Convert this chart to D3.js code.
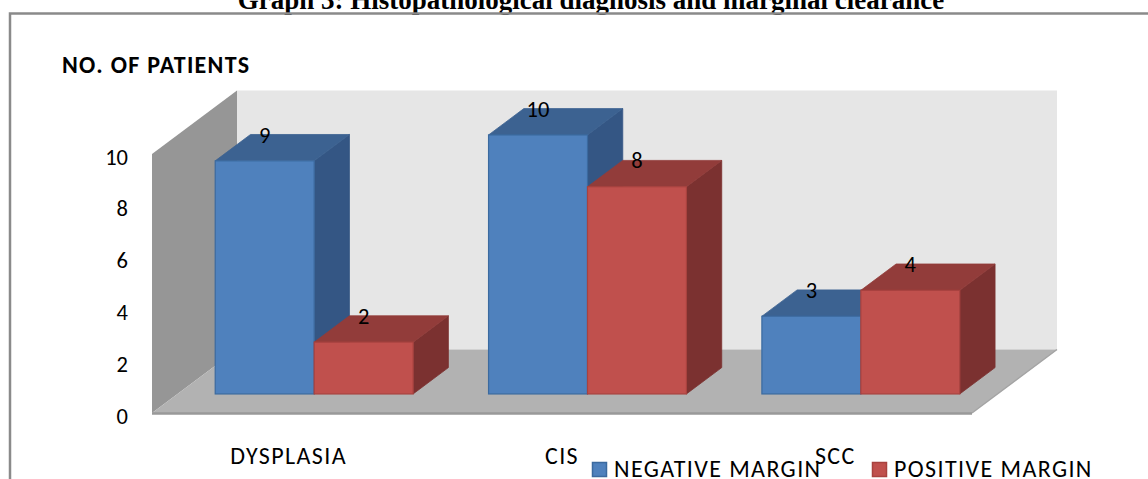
<!DOCTYPE html>
<html>
<head>
<meta charset="utf-8">
<script src="https://cdn.jsdelivr.net/npm/d3@7"></script>
<style>
  html, body { margin: 0; padding: 0; background: #fff; }
  svg { display: block; }
  .lbl { font-family: Carlito, Lato, "Open Sans", sans-serif; fill: #000; }
</style>
</head>
<body>
<svg id="chart" width="1148" height="479"></svg>
<script>
// ---- data ----
const categories = ["DYSPLASIA", "CIS", "SCC"];
const seriesNames = ["NEGATIVE MARGIN", "POSITIVE MARGIN"];
const negativeMargin = [9, 10, 3];
const positiveMargin = [2, 8, 4];
const yTicks = [0, 2, 4, 6, 8, 10];
const titleText = "Graph 3: Histopathological diagnosis and marginal clearance";
const yAxisTitle = "NO. OF PATIENTS";

// ---- styling / layout ----
const colors = {
  "NEGATIVE MARGIN": { front: "#4F81BD", top: "#3C6291", side: "#345684", stroke: "#3B6A9F" },
  "POSITIVE MARGIN": { front: "#C0504D", top: "#923C3A", side: "#7B3130", stroke: "#A8423F" }
};
const plot = { left: 152, right: 972, base: 413, top: 154 };
const wallDepth = { dx: 85, dy: -63.5 };
const barFrontFrac = 0.3, barBackFrac = 0.715;
const groupFrac = 0.724;
const numSize = 22.5;
const wordSize = 24;
const wordSpacing = "1.4px";

const svg = d3.select("#chart");

// title (clipped at top)
svg.append("text")
  .attr("x", 591).attr("y", 9)
  .attr("text-anchor", "middle")
  .style("font-family", "'Liberation Serif', 'Times New Roman', serif")
  .style("font-weight", "bold")
  .style("font-size", "27px")
  .text(titleText);

// frame
svg.append("path")
  .attr("d", "M10,479 V13.5 H1148")
  .attr("fill", "none")
  .attr("stroke", "#8a8a8a")
  .attr("stroke-width", 2.5);

// scales
const x0 = d3.scaleBand().domain(categories).range([plot.left, plot.right]).padding(0);
const y = d3.scaleLinear().domain([0, 10]).range([plot.base, plot.top]);
const bw = x0.bandwidth();
const groupW = bw * groupFrac;
const x1 = d3.scaleBand().domain(seriesNames).range([0, groupW]).padding(0);

const line = d3.line();

// walls
const g = svg.append("g");
const wdx = wallDepth.dx, wdy = wallDepth.dy;
const y0 = y(0), yMax = y(10);
g.append("path") // left wall
  .attr("d", line([[plot.left, y0], [plot.left, yMax], [plot.left + wdx, yMax + wdy], [plot.left + wdx, y0 + wdy]]) + "Z")
  .attr("fill", "#969696");
g.append("path") // back wall
  .attr("d", line([[plot.left + wdx, yMax + wdy], [plot.right + wdx, yMax + wdy], [plot.right + wdx, y0 + wdy], [plot.left + wdx, y0 + wdy]]) + "Z")
  .attr("fill", "#E6E6E6");
g.append("path") // floor
  .attr("d", line([[plot.left, y0], [plot.right, y0], [plot.right + wdx, y0 + wdy], [plot.left + wdx, y0 + wdy]]) + "Z")
  .attr("fill", "#B2B2B2");
g.append("line")
  .attr("x1", plot.left).attr("x2", plot.right)
  .attr("y1", y0 + 0.5).attr("y2", y0 + 0.5)
  .attr("stroke", "#999").attr("stroke-width", 2.5);
g.append("line")
  .attr("x1", plot.right).attr("y1", y0)
  .attr("x2", plot.right + wdx).attr("y2", y0 + wdy)
  .attr("stroke", "#A4A4A4").attr("stroke-width", 1.5);

// y axis
const axis = d3.axisLeft(y).tickValues(yTicks).tickSize(0).tickPadding(0);
const ag = svg.append("g").attr("transform", "translate(128,0)").call(axis);
ag.select(".domain").remove();
ag.selectAll("text")
  .attr("class", "lbl")
  .attr("dy", "0.45em")
  .style("font-family", "Carlito, Lato, 'Open Sans', sans-serif")
  .style("font-size", numSize + "px")
  .attr("fill", "#000");

// axis title
svg.append("text")
  .attr("class", "lbl")
  .attr("x", 62).attr("y", 73)
  .style("font-size", wordSize + "px")
  .style("letter-spacing", "1.3px")
  .style("font-weight", "bold")
  .text(yAxisTitle);

// bars
const fdx = barFrontFrac * wdx, fdy = barFrontFrac * wdy;
const ddx = (barBackFrac - barFrontFrac) * wdx, ddy = (barBackFrac - barFrontFrac) * wdy;
const bars = [];
categories.forEach((c, i) => {
  bars.push({ cat: c, series: seriesNames[0], value: negativeMargin[i] });
  bars.push({ cat: c, series: seriesNames[1], value: positiveMargin[i] });
});

const bg = svg.append("g");
bars.forEach(d => {
  const col = colors[d.series];
  const xl = x0(d.cat) + (bw - groupW) / 2 + x1(d.series) + fdx;
  const w = x1.bandwidth();
  const yb = y(0) + fdy;
  const yt = y(d.value) + fdy;
  const grp = bg.append("g");
  grp.append("path")
    .attr("d", line([[xl + w, yb], [xl + w, yt], [xl + w + ddx, yt + ddy], [xl + w + ddx, yb + ddy]]) + "Z")
    .attr("fill", col.side).attr("stroke", col.side).attr("stroke-width", 0.8);
  grp.append("path")
    .attr("d", line([[xl, yt], [xl + w, yt], [xl + w + ddx, yt + ddy], [xl + ddx, yt + ddy]]) + "Z")
    .attr("fill", col.top).attr("stroke", col.top).attr("stroke-width", 0.8);
  grp.append("rect")
    .attr("x", xl).attr("y", yt)
    .attr("width", w).attr("height", yb - yt)
    .attr("fill", col.front)
    .attr("stroke", col.stroke).attr("stroke-width", 1.2);
  d.lx = xl + w / 2;
  d.ly = yt + ddy;
});

// data labels
svg.append("g").selectAll("text")
  .data(bars).join("text")
  .attr("class", "lbl")
  .attr("x", d => d.lx).attr("y", d => d.ly)
  .attr("dy", "0.36em")
  .attr("text-anchor", "middle")
  .style("font-size", numSize + "px")
  .text(d => d.value);

// category labels
svg.append("g").selectAll("text")
  .data(categories).join("text")
  .attr("class", "lbl")
  .attr("x", d => x0(d) + bw / 2).attr("y", 464)
  .attr("text-anchor", "middle")
  .style("font-size", wordSize + "px")
  .style("letter-spacing", wordSpacing)
  .text(d => d);

// legend
const legendX = [592, 872];
const lg = svg.append("g");
seriesNames.forEach((s, i) => {
  lg.append("rect")
    .attr("x", legendX[i] + 0.5).attr("y", 462.5)
    .attr("width", 14).attr("height", 14)
    .attr("fill", colors[s].front)
    .attr("stroke", colors[s].stroke).attr("stroke-width", 1.5);
  lg.append("text")
    .attr("class", "lbl")
    .attr("x", legendX[i] + 22).attr("y", 477)
    .style("font-size", wordSize + "px")
    .style("letter-spacing", wordSpacing)
    .text(s);
});
</script>
</body>
</html>
